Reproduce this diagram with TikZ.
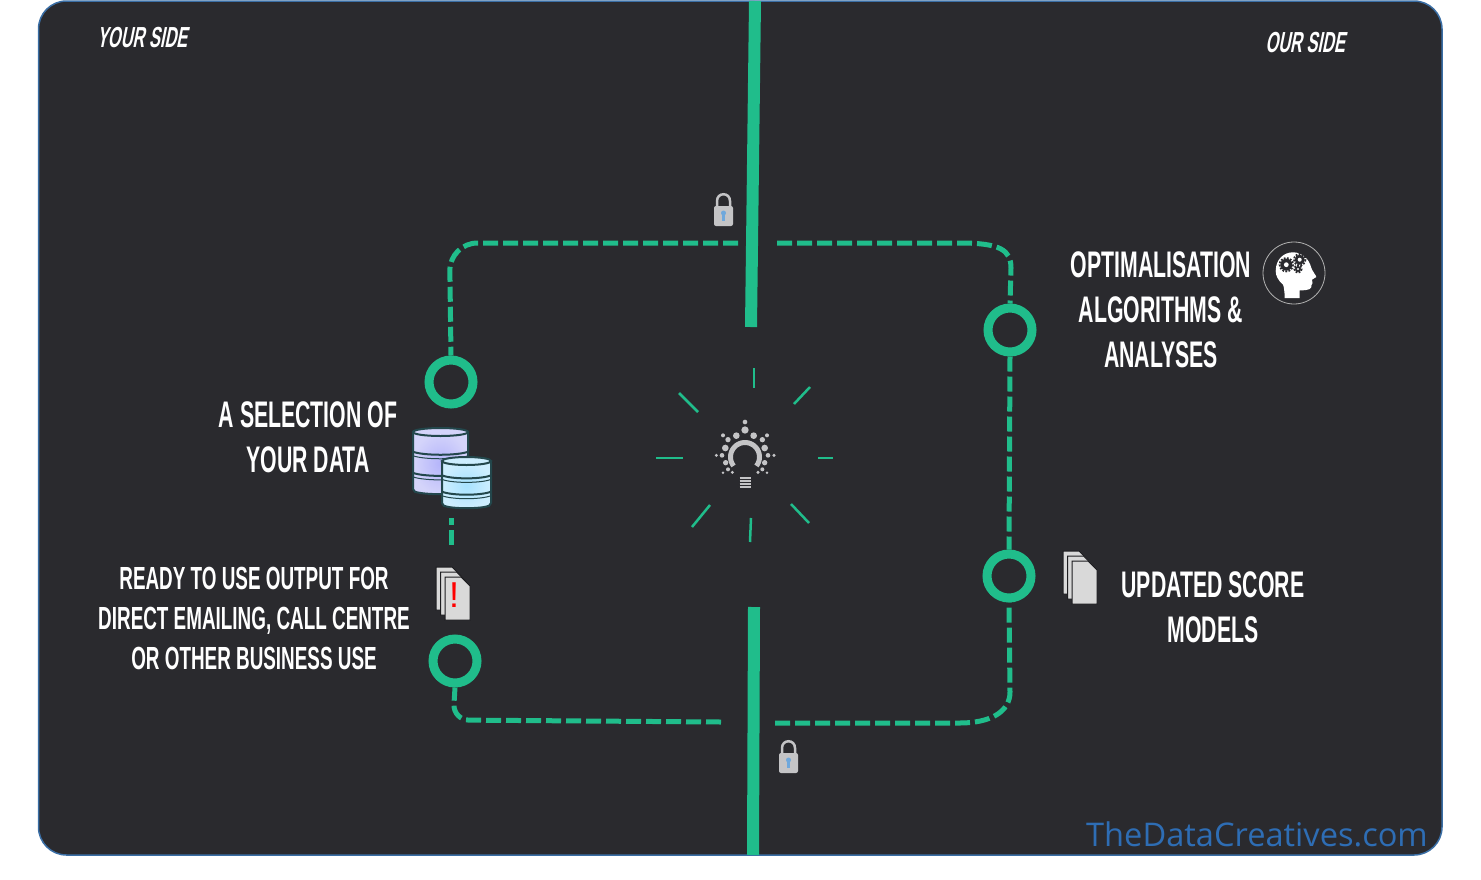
\documentclass[tikz,border=0pt]{standalone}
\usepackage{fontspec}
\setmainfont{Liberation Sans}
\newfontfamily\condfont[FakeStretch=0.575]{Liberation Sans Bold}
\newfontfamily\narrowfont[FakeStretch=0.59]{Liberation Sans Bold}
\newfontfamily\slantfont[FakeStretch=0.567,FakeSlant=0.2]{Liberation Sans Bold}
\newfontfamily\webfont{Open Sans}
\usetikzlibrary{positioning}
\definecolor{panelbg}{HTML}{2A2A2E}
\definecolor{panelline}{HTML}{3A6EA5}
\definecolor{webblue}{HTML}{2E6DB4}
\definecolor{leaf}{HTML}{20BD8B}
\definecolor{iconedge}{HTML}{23474C}
\definecolor{pagefill}{HTML}{D9D9D9}
\definecolor{lockgray}{HTML}{C4C4C6}
\definecolor{keyblue}{HTML}{6FA8DC}
\definecolor{dbviolet}{HTML}{B4B4FA}
\definecolor{dbvioletpale}{HTML}{D4D4FA}
\definecolor{dbcyan}{HTML}{A8E2FF}
\definecolor{dbcyanpale}{HTML}{CDEEFF}
\tikzset{
    panel/.style={draw=panelline,fill=panelbg,line width=1.5pt,rounded corners=28pt},
    ring/.style={circle,draw=leaf,line width=9pt,minimum size=44pt,inner sep=0pt},
    divider/.style={draw=leaf,line width=12pt},
    dashline/.style={draw=leaf,line width=5pt,dash pattern=on 15pt off 5pt},
    ray/.style={draw=leaf,line width=2.5pt},
    bigtag/.style={text=white,align=center,inner sep=0pt,font=\condfont\fontsize{37}{45}\selectfont},
    smalltag/.style={text=white,align=center,inner sep=0pt,font=\narrowfont\fontsize{32}{40}\selectfont},
    sidetag/.style={text=white,inner sep=0pt,font=\slantfont\fontsize{29}{32}\selectfont},
    weblabel/.style={text=webblue,inner sep=0pt,font=\webfont\fontsize{32.6}{36}\selectfont},
    pageshape/.style={draw=panelbg!70!black,fill=pagefill,line width=1pt},
    pics/lockicon/.style={code={
        \draw[draw=lockgray,line width=2.5pt] (-6.5,0) -- (-6.5,-6) .. controls (-6.5,-15) and (6.5,-15) .. (6.5,-6) -- (6.5,0);
        \fill[lockgray,rounded corners=2pt] (-9.5,-1) rectangle (9.5,19);
        \fill[keyblue] (0,6) circle (2.5);
        \fill[keyblue] (-1.2,6) rectangle (1.2,14);
    }},
    pics/docsicon/.style={code={
        \foreach \dx/\dy in {0/0,4.5/5,9/10}{
            \draw[pageshape] (\dx,\dy) -- ++(16,0) -- ++(9,9) -- ++(0,34) -- ++(-25,0) -- cycle;
        }
    }},
    % width, height, centre colour, rim colour
    pics/dbstack/.style n args={4}{code={
        \draw[draw=iconedge,line width=2pt,inner color=#3,outer color=#4,rounded corners=2pt]
            (0,4) -- (0,{#2-3}) .. controls ({#1*0.2},{#2+1}) and ({#1*0.8},{#2+1}) .. (#1,{#2-3}) -- (#1,4) -- cycle;
        \draw[draw=iconedge,line width=2pt,fill=#4] ({#1*0.5},4) ellipse ({#1*0.5} and 4);
        \foreach \dy in {0.36,0.68}{
            \draw[draw=iconedge,line width=2pt] (0,{#2*\dy}) .. controls ({#1*0.2},{#2*\dy+4}) and ({#1*0.8},{#2*\dy+4}) .. (#1,{#2*\dy});
            \draw[draw=iconedge,line width=1pt] (0,{#2*\dy+4}) .. controls ({#1*0.2},{#2*\dy+8}) and ({#1*0.8},{#2*\dy+8}) .. (#1,{#2*\dy+4});
        }
    }},
    pics/headicon/.style={code={
        \draw[draw=white!70!black,line width=.8pt] (0,0) circle (31);
        \fill[white] (-9.3,25) .. controls (-9.5,18) and (-10,14) .. (-11,11.7)
            .. controls (-16,7) and (-18.3,3) .. (-18.3,-2)
            .. controls (-18.3,-14) and (-10,-20.7) .. (-1,-20.7)
            .. controls (8,-20.7) and (15,-14) .. (17,-6)
            .. controls (18,-2) and (22,2) .. (22.3,4)
            -- (18,6.7) -- (18.5,10) -- (17.5,12)
            .. controls (18,16) and (15,17.5) .. (5.7,17.3)
            -- (5.7,25) -- cycle;
        \foreach \gx/\gy/\gr in {-7.7/-8.3/6,5.7/-13.3/5,4/-4/3}{
            \fill[panelbg] (\gx,\gy) circle (\gr);
            \draw[draw=panelbg,line width=1.8pt,dash pattern=on 1.8pt off 1.4pt] (\gx,\gy) circle ({\gr+.7});
            \fill[white] (\gx,\gy) circle ({\gr*.4});
        }
    }},
    pics/bulbicon/.style={code={
        \foreach \zx/\zy/\zr in {316/185/7,316/209/11,290/226/10,342/226/10,250/225/6,382/225/6,265/238/8,368/238/8,257/263/10,375/263/10,230/285/5,247/285/7,385/285/7,403/285/5,258/307/8,375/307/8,265/327/6,368/327/6,250/337/4,278/336/5,355/336/5,382/337/4}{
            \fill[lockgray] ({(\zx-316)/3},{(\zy-290)/3}) circle ({\zr/3});
        }
        \draw[draw=lockgray,line width=5pt] plot[domain=-38:218,samples=30] ({14.5*cos(\x)},{-14.5*sin(\x)});
        \foreach \sy in {20.5,23.5,26.5,29.5}{
            \draw[draw=lockgray,line width=2pt] (-5.5,\sy) -- (6,\sy);
        }
    }}
}
\begin{document}
\begin{tikzpicture}[x=1pt,y=-1pt]
    \useasboundingbox (0,0) rectangle (1481,879);
    \draw[panel] (38.5,1) rectangle (1442,855);

    \node[weblabel] (web) at (1257,834) {TheDataCreatives.com};

    \node[sidetag] (yourside) at (142,37.5) {YOUR SIDE};
    \node[sidetag] (ourside) at (1305,42.5) {OUR SIDE};

    \coordinate (divtopa) at (755,1);
    \coordinate (divtopb) at (751,327);
    \coordinate (divbota) at (754,607);
    \coordinate (divbotb) at (753,855);
    \draw[divider] (divtopa) -- (divtopb);
    \draw[divider] (divbota) -- (divbotb);

    \node[ring] (sel) at (451,382) {};
    \node[ring] (opt) at (1010,330) {};
    \node[ring] (upd) at (1009,576) {};
    \node[ring] (rdy) at (455,661) {};

    \coordinate (cornw) at (449.5,243);
    \coordinate (gapnw) at (738,243);
    \coordinate (gapne) at (777,243);
    \coordinate (arcnea) at (960,243);
    \coordinate (arcneb) at (1011,268);
    \coordinate (arcsea) at (1010,692);
    \coordinate (arcseb) at (960,723);
    \coordinate (gapse) at (775,723);
    \coordinate (gapsw) at (721,722);
    \coordinate (corsw) at (453,720);
    \coordinate (dbfoot) at (451,518);
    \coordinate (docfoot) at (451,545);

    \draw[dashline,rounded corners=28pt] (gapnw) -- (cornw) -- (sel.north);
    \draw[dashline] (gapne) -- (arcnea) .. controls (1000,243) and (1011,250) .. (arcneb) -- (opt.north);
    \draw[dashline] (opt.south) -- (upd.north);
    \draw[dashline] (gapse) -- (arcseb) .. controls (990,723) and (1010,712) .. (arcsea) -- (upd.south);
    \draw[dashline,rounded corners=16pt] (gapsw) -- (corsw) -- (rdy.south);
    \draw[dashline] (docfoot) -- (dbfoot);

    \node[bigtag] (opttag) at (1161,309.5) {OPTIMALISATION\\ALGORITHMS \&\\ANALYSES};
    \node[bigtag] (seltag) at (308,437) {A SELECTION OF\\YOUR DATA};
    \node[bigtag] (updtag) at (1213,607) {UPDATED SCORE\\MODELS};
    \node[smalltag] (rdytag) at (254,618.5) {READY TO USE OUTPUT FOR\\DIRECT EMAILING, CALL CENTRE\\OR OTHER BUSINESS USE};

    \pic at (723.5,207) {lockicon};
    \pic at (788.5,754) {lockicon};
    \pic at (1294,273) {headicon};
    \pic at (745,457) {bulbicon};
    \pic at (1063,551) {docsicon};
    \pic at (436,567) {docsicon};
    \node[text=red,inner sep=0pt,font=\fontsize{36}{36}\selectfont] (alert) at (454,595) {!};

    \pic at (413,428) {dbstack={55}{66}{dbviolet}{dbvioletpale}};
    \pic at (442,457) {dbstack={49}{51}{dbcyan}{dbcyanpale}};

    \foreach \ax/\ay/\bx/\by in {754/368/754/388,810/387/794/404,679/393/698/412,656/458/683/458,818/458/833/458,710/505/692/527,751/518/750/542,791/504/809/523}{
        \draw[ray] (\ax,\ay) -- (\bx,\by);
    }
\end{tikzpicture}
\end{document}
